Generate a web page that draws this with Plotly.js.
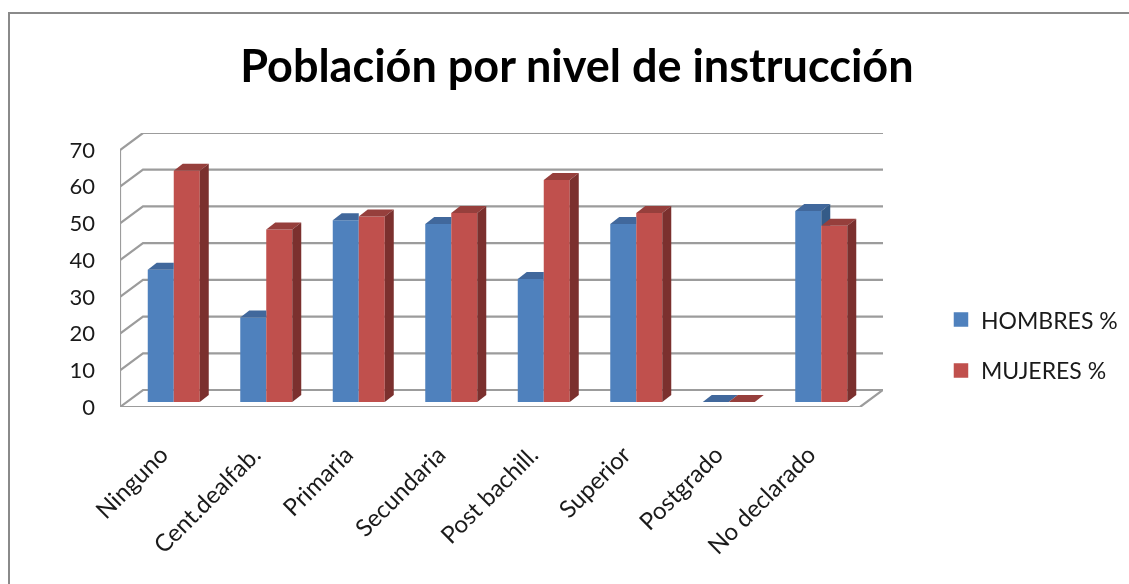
<!DOCTYPE html>
<html>
<head>
<meta charset="utf-8">
<script src="https://cdn.plot.ly/plotly-3.0.1.min.js"></script>
<style>
html,body{margin:0;padding:0;background:#fff;overflow:hidden}
#frame{position:absolute;left:8px;top:12px;width:1200px;height:700px;border-left:2px solid #8a8a8a;border-top:2px solid #8a8a8a;pointer-events:none}
#chart{position:absolute;left:0;top:0;width:1129px;height:584px;filter:blur(0.4px)}
</style>
</head>
<body>
<div id="chart"></div>
<div id="frame"></div>
<script>
const categories = ["Ninguno","Cent.dealfab.","Primaria","Secundaria","Post bachill.","Superior","Postgrado","No declarado"];
const hombres = [36, 23, 49.5, 48.5, 33.5, 48.5, 0, 52];
const mujeres = [63, 47, 50.5, 51.5, 60.5, 51.5, 0, 48];
const yTicks = [0,10,20,30,40,50,60,70];
const seriesNames = ["HOMBRES %","MUJERES %"];
const seriesColors = ['#4f81bd','#c0504d'];

// 3-D projection, in axis units
const wallDx = 0.2486, wallDy = 4.63;      // depth of the floor
const barDx = 0.0973, barDy = 1.9;         // depth of a bar
const shiftX = 0.0811, shiftY = 1.36;      // bars sit a little back on the floor
const barW = 0.2811;
const xMin = -0.5, xMax = categories.length - 0.5 + wallDx, yMax = 70 + wallDy;

const GRID = {color:'#9c9c9c', width:2.2};
const traces = [];
function line(xs, ys){
  traces.push({type:'scatter',mode:'lines',x:xs,y:ys,line:GRID,cliponaxis:false,showlegend:false,hoverinfo:'skip',xaxis:'x',yaxis:'y'});
}
// walls and floor
yTicks.forEach(v=>{
  if(v===0){
    line([xMin,xMax-wallDx,xMax,xMin+wallDx,xMin],[0,0,wallDy,wallDy,0]);
  } else {
    line([xMin,xMin+wallDx,xMax],[v,v+wallDy,v+wallDy]);
  }
});
line([xMin,xMin],[0,70]);

// legend keys: bars without data, outlined so the key is a little larger
seriesNames.forEach((n,k)=>{
  traces.push({type:'bar',x:[null],y:[null],name:n,legendgroup:'g'+k,
    marker:{color:seriesColors[k],line:{width:2.5,color:seriesColors[k]}},hoverinfo:'skip',xaxis:'x',yaxis:'y'});
});

// front faces
const barX = categories.map((c,i)=>i+shiftX);
[hombres,mujeres].forEach((vals,k)=>{
  traces.push({type:'bar',x:barX,y:vals,base:vals.map(()=>shiftY),name:seriesNames[k],showlegend:false,
    marker:{color:seriesColors[k],line:{width:0}},width:barW,hoverinfo:'skip',xaxis:'x2',yaxis:'y2'});
});
function poly(xs,ys,col){
  traces.push({type:'scatter',mode:'lines',fill:'toself',fillcolor:col,x:xs,y:ys,line:{width:0,color:col},
    showlegend:false,hoverinfo:'skip',xaxis:'x2',yaxis:'y2'});
}
categories.forEach((c,i)=>{
  const xc=i+shiftX, xl=xc-barW, xm=xc, xr=xc+barW;
  const b=hombres[i]+shiftY, r=mujeres[i]+shiftY;
  // blue top and side: only what the red bar does not hide
  if(b>=r){
    poly([xl,xm,xm+barDx,xl+barDx,xl],[b,b,b+barDy,b+barDy,b],'#41689c');
    if(b>r) poly([xm,xm+barDx,xm+barDx,xm,xm],[b,b+barDy,r,r,b],'#345b88');
  } else {
    poly([xl,xm,xm,xl+barDx,xl],[b,b,b+barDy,b+barDy,b],'#41689c');
  }
  // red top and side
  poly([xm,xr,xr+barDx,xm+barDx,xm],[r,r,r+barDy,r+barDy,r],'#963f3c');
  poly([xr,xr+barDx,xr+barDx,xr,xr],[r,r+barDy,shiftY+barDy,shiftY,r],'#7b302e');
});

const FONT='Lato, "Noto Sans", sans-serif';
const layout = {
  width:1129,height:584,
  margin:{l:120,r:246,t:133,b:177,pad:0,autoexpand:false},
  paper_bgcolor:'#fff',plot_bgcolor:'rgba(0,0,0,0)',
  font:{family:FONT,color:'#1a1a1a'},
  title:{text:'<b>Población por nivel de instrucción</b>',font:{family:FONT,size:45,color:'#000'},
    x:0.511,xanchor:'center',y:0.887,yanchor:'middle',xref:'container',yref:'container'},
  barmode:'group',bargap:0.438,bargroupgap:0,
  xaxis:{range:[xMin,xMax],tickmode:'array',tickvals:categories.map((c,i)=>i),ticktext:categories,
    tickangle:-45,ticks:'',ticklen:0,showgrid:false,zeroline:false,showline:false,ticklabelstandoff:28,ticklabelshift:-5,
    tickfont:{family:FONT,size:24,color:'#1a1a1a'},fixedrange:true},
  yaxis:{range:[0,yMax],tickmode:'array',tickvals:yTicks,ticktext:yTicks.map(String),ticks:'',
    showgrid:false,zeroline:false,showline:false,ticklabelstandoff:24,
    tickfont:{family:FONT,size:22,color:'#1a1a1a'},fixedrange:true},
  xaxis2:{range:[xMin,xMax],overlaying:'x',visible:false,fixedrange:true},
  yaxis2:{range:[0,yMax],overlaying:'y',visible:false,fixedrange:true},
  showlegend:true,
  legend:{x:1.076,xanchor:'left',y:0.226,yanchor:'middle',traceorder:'grouped',tracegroupgap:18,
    font:{family:FONT,size:23,color:'#1a1a1a'},bgcolor:'rgba(0,0,0,0)',itemwidth:30}
};
Plotly.newPlot('chart',traces,layout,{displayModeBar:false,staticPlot:true});
</script>
</body>
</html>
